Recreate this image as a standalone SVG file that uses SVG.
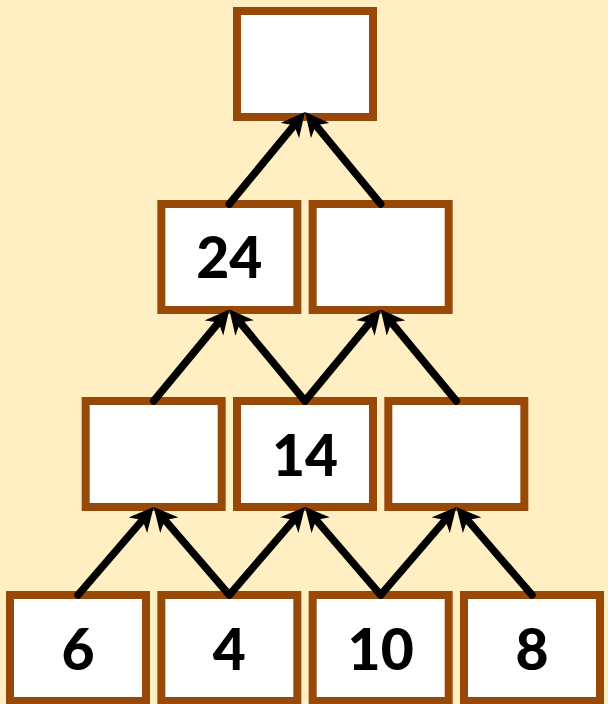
<svg xmlns="http://www.w3.org/2000/svg" width="608" height="704" viewBox="0 0 608 704">
  <style>
    .box { fill: #ffffff; stroke: #984807; stroke-width: 8; }
    .lbl { font-family: Lato, "Liberation Sans", sans-serif; font-weight: 900; font-size: 57px; fill: #000000; text-anchor: middle; }
    .arr { fill: none; stroke: #000000; stroke-width: 7.5; stroke-linecap: round; marker-end: url(#head); }
  </style>
  <defs>
    <marker id="head" markerUnits="userSpaceOnUse" viewBox="0 0 24 24" markerWidth="24" markerHeight="24" refX="12" refY="12" orient="auto">
      <path d="M0,0 L24,12 L0,24 L7,12 Z" fill="#000000"/>
    </marker>
  </defs>
  <rect x="0" y="0" width="608" height="704" fill="#FFEFC2"/>

  <g id="node-top"><rect class="box" x="237" y="11" width="136" height="106"/></g>

  <g id="node-r2-1"><rect class="box" x="161.33" y="204" width="136" height="106"/><text class="lbl" x="229.33" y="278">24</text></g>
  <g id="node-r2-2"><rect class="box" x="312.67" y="204" width="136" height="106"/></g>

  <g id="node-r3-1"><rect class="box" x="85.67" y="401" width="136" height="106"/></g>
  <g id="node-r3-2"><rect class="box" x="237" y="401" width="136" height="106"/><text class="lbl" x="305" y="475.5">14</text></g>
  <g id="node-r3-3"><rect class="box" x="388.33" y="401" width="136" height="106"/></g>

  <g id="node-r4-1"><rect class="box" x="10" y="595" width="136" height="106"/><text class="lbl" x="78" y="670">6</text></g>
  <g id="node-r4-2"><rect class="box" x="161.33" y="595" width="136" height="106"/><text class="lbl" x="229.33" y="670">4</text></g>
  <g id="node-r4-3"><rect class="box" x="312.67" y="595" width="136" height="106"/><text class="lbl" x="380.67" y="670">10</text></g>
  <g id="node-r4-4"><rect class="box" x="464" y="595" width="136" height="106"/><text class="lbl" x="532" y="670">8</text></g>

  <g id="connectors">
    <line class="arr" x1="78" y1="595" x2="145.85" y2="516.1"/>
    <line class="arr" x1="229.33" y1="595" x2="161.49" y2="516.1"/>
    <line class="arr" x1="229.33" y1="595" x2="297.18" y2="516.1"/>
    <line class="arr" x1="380.67" y1="595" x2="312.82" y2="516.1"/>
    <line class="arr" x1="380.67" y1="595" x2="448.51" y2="516.1"/>
    <line class="arr" x1="532" y1="595" x2="464.15" y2="516.1"/>

    <line class="arr" x1="153.67" y1="401" x2="221.68" y2="318.75"/>
    <line class="arr" x1="305" y1="401" x2="236.98" y2="318.75"/>
    <line class="arr" x1="305" y1="401" x2="373.02" y2="318.75"/>
    <line class="arr" x1="456.33" y1="401" x2="388.32" y2="318.75"/>

    <line class="arr" x1="229.33" y1="204" x2="297.38" y2="121.27"/>
    <line class="arr" x1="380.67" y1="204" x2="312.62" y2="121.27"/>
  </g>
</svg>
